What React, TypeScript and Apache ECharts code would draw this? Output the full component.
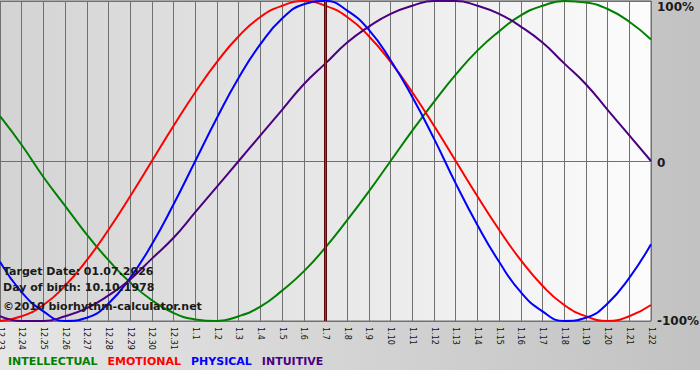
import React, { useEffect, useRef } from 'react';
import * as echarts from 'echarts';

const days = [
  '12.23', '12.24', '12.25', '12.26', '12.27', '12.28', '12.29', '12.30', '12.31',
  '1.1', '1.2', '1.3', '1.4', '1.5', '1.6', '1.7', '1.8', '1.9', '1.10', '1.11',
  '1.12', '1.13', '1.14', '1.15', '1.16', '1.17', '1.18', '1.19', '1.20', '1.21', '1.22',
];
const targetDay = '1.7';

const intellectual = [28, 10, -10, -28, -46, -62, -76, -87, -95, -99, -100, -97, -91, -81, -69, -54, -37, -19, 0, 19, 37, 54, 69, 81, 91, 97, 100, 99, 95, 87, 76];
const emotional = [-100, -97, -90, -78, -62, -43, -22, 0, 22, 43, 62, 78, 90, 97, 100, 97, 90, 78, 62, 43, 22, 0, -22, -43, -62, -78, -90, -97, -100, -97, -90];
const physical = [-63, -82, -94, -100, -98, -89, -73, -52, -27, 0, 27, 52, 73, 89, 98, 100, 94, 82, 63, 40, 14, -14, -40, -63, -82, -94, -100, -98, -89, -73, -52];
const intuitive = [-97, -100, -100, -97, -92, -84, -74, -61, -48, -32, -16, 0, 16, 32, 48, 61, 74, 84, 92, 97, 100, 100, 97, 92, 84, 74, 61, 48, 32, 16, 0];

const yTickLabels = ['-100%', '0', '100%'];
const yTickValues = [-100, 0, 100];

const infoLines = ['Target Date: 01.07.2026', 'Day of birth: 10.10.1978', '©2010 biorhythm-calculator.net'];
const legendItems = [
  { name: 'INTELLECTUAL', color: '#008000' },
  { name: 'EMOTIONAL', color: '#ff0000' },
  { name: 'PHYSICAL', color: '#0000ff' },
  { name: 'INTUITIVE', color: '#4b0082' },
];

export default function App() {
  const ref = useRef<HTMLDivElement>(null);
  useEffect(() => {
    document.body.style.margin = '0';
    const chart = echarts.init(ref.current!, null, { renderer: 'svg' });
    const font = '"DejaVu Sans", Verdana, sans-serif';
    const mk = (name: string, data: number[], color: string) => ({
      name,
      type: 'line',
      data,
      smooth: 0.5,
      symbol: 'none',
      lineStyle: { color, width: 2 },
      itemStyle: { color },
      z: 3,
    });
    const ctx = document.createElement('canvas').getContext('2d')!;
    ctx.font = `bold 11px ${font}`;
    let cx = 8;
    const legendGraphics = legendItems.map((it) => {
      const g = {
        type: 'text',
        x: cx,
        y: 361,
        z: 10,
        style: {
          text: it.name,
          fill: it.color,
          font: `bold 11px ${font}`,
          verticalAlign: 'middle',
        },
      };
      cx += ctx.measureText(it.name).width + 10;
      return g;
    });

    chart.setOption({
      animation: false,
      grid: {
        left: 0,
        right: 49,
        top: 1,
        bottom: 59,
        outerBoundsMode: 'none',
        containLabel: false,
        show: true,
        borderColor: '#707070',
        borderWidth: 1,
        backgroundColor: new echarts.graphic.LinearGradient(0, 0, 1, 0, [
          { offset: 0, color: '#d3d3d3' },
          { offset: 1, color: '#fcfcfc' },
        ]),
      },
      graphic: [
        {
          type: 'rect',
          z: -100,
          silent: true,
          shape: { x: 0, y: 0, width: 700, height: 370 },
          style: {
            fill: new echarts.graphic.LinearGradient(0, 0, 1, 0, [
              { offset: 0, color: '#e6e6e6' },
              { offset: 1, color: '#c2c2c2' },
            ]),
          },
        },
        ...infoLines.map((t, i) => ({
          type: 'text',
          x: 3,
          y: [271, 287, 306][i],
          z: 10,
          style: {
            text: t,
            fill: '#1a1a1a',
            font: `bold 11px ${font}`,
            verticalAlign: 'middle',
          },
        })),
        ...legendGraphics,
      ],
      xAxis: {
        type: 'category',
        data: days,
        boundaryGap: false,
        axisLine: { show: true, lineStyle: { color: '#707070' } },
        axisTick: { show: true, interval: 0, length: 4, lineStyle: { color: '#707070' } },
        axisLabel: {
          interval: 0,
          rotate: -90,
          margin: 6,
          fontSize: 8,
          fontFamily: font,
          color: '#111',
        },
        splitLine: { show: true, interval: 0, lineStyle: { color: '#707070', width: 1 } },
      },
      yAxis: {
        type: 'value',
        position: 'right',
        min: -100,
        max: 100,
        interval: 100,
        axisLine: { show: false },
        axisTick: { show: false },
        axisLabel: {
          margin: 6,
          fontSize: 12,
          fontWeight: 'bold',
          fontFamily: font,
          color: '#1a1a1a',
          formatter: (v: number) => {
            const t = yTickLabels[yTickValues.indexOf(v)] ?? '';
            if (v === 100) return `{top|${t}}`;
            if (v === 0) return `{mid|${t}}`;
            return t;
          },
          rich: {
            top: {
              fontSize: 12,
              fontWeight: 'bold',
              fontFamily: font,
              color: '#1a1a1a',
              padding: [12, 0, 0, 0],
            },
            mid: {
              fontSize: 12,
              fontWeight: 'bold',
              fontFamily: font,
              color: '#1a1a1a',
              padding: [4, 0, 0, 0],
            },
          },
        },
        splitLine: { show: true, lineStyle: { color: '#707070', width: 1 } },
      },
      series: [
        {
          ...mk('INTELLECTUAL', intellectual, '#008000'),
          markLine: {
            silent: true,
            symbol: 'none',
            label: { show: false },
            lineStyle: { color: '#5a0a0a', width: 3, type: 'solid' },
            data: [{ xAxis: targetDay }],
            z: 5,
          },
        },
        mk('EMOTIONAL', emotional, '#ff0000'),
        mk('PHYSICAL', physical, '#0000ff'),
        {
          ...mk('INTUITIVE', intuitive, '#4b0082'),
          markLine: {
            silent: true,
            symbol: 'none',
            label: { show: false },
            lineStyle: { color: '#b03030', width: 1, type: 'solid' },
            data: [{ xAxis: targetDay }],
            z: 6,
          },
        },
      ],
    });
    return () => chart.dispose();
  }, []);
  return <div ref={ref} style={{ width: 700, height: 380, position: 'absolute', left: 0, top: 0 }} />;
}
